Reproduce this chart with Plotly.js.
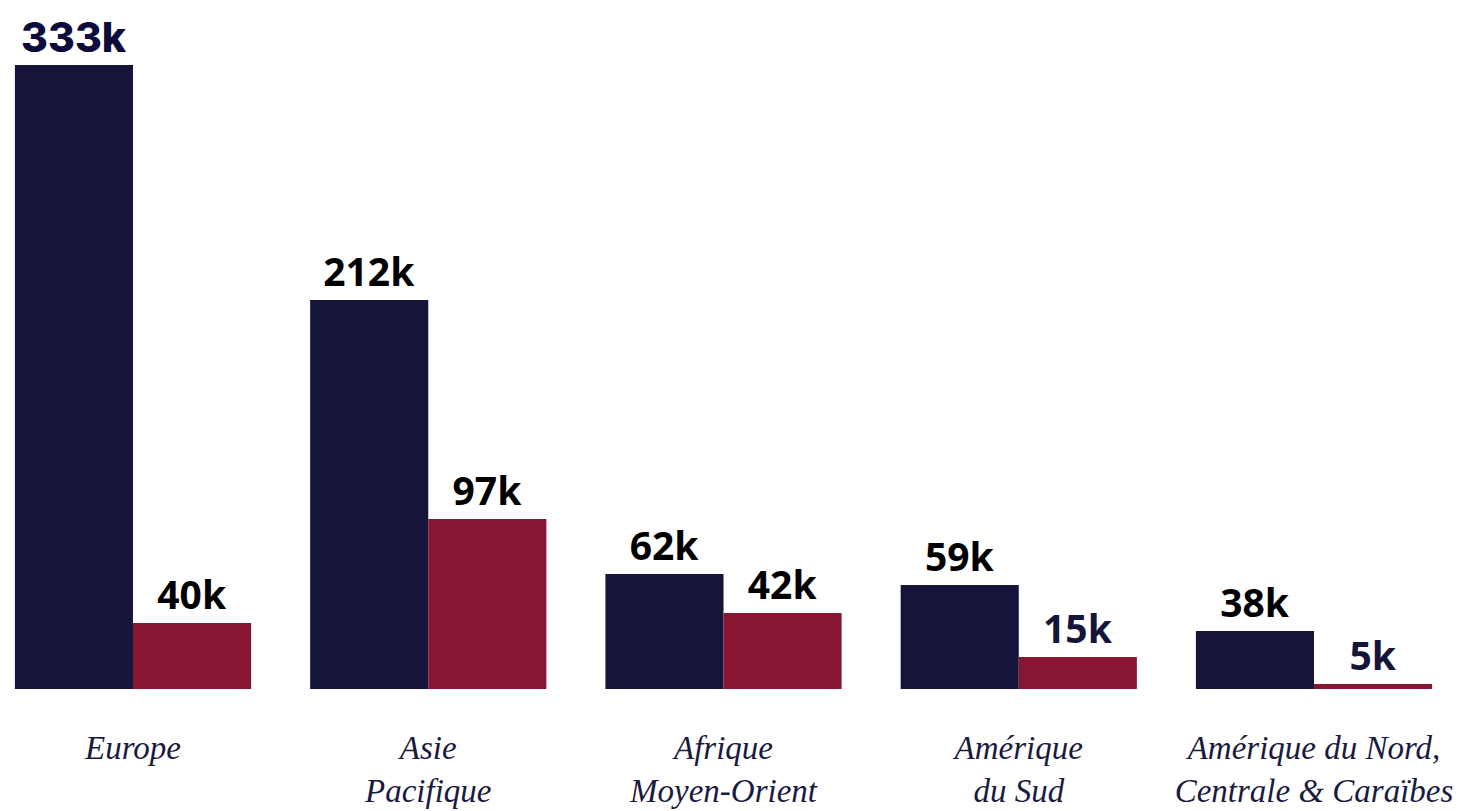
<!DOCTYPE html>
<html><head><meta charset="utf-8">
<script src="https://cdn.plot.ly/plotly-3.0.1.min.js"></script>
<style>html,body{margin:0;padding:0;background:#fff;}#chart{width:1465px;height:811px;}</style>
</head><body><div id="chart"></div>
<script>
const categories = ["Europe", "Asie<br>Pacifique", "Afrique<br>Moyen-Orient", "Amérique<br>du Sud", "Amérique du Nord,<br>Centrale &amp; Caraïbes"];
// bar heights (thousands)
const seriesA = [333, 207.6, 61.4, 55.5, 31];
const seriesB = [35.2, 90.7, 40.6, 17.1, 2.7];
// printed labels
const labelsA = ["333k", "212k", "62k", "59k", "38k"];
const labelsB = ["40k", "97k", "42k", "15k", "5k"];

const NAVY = "#15153b", RED = "#861631";
const fA = {family: ["Inter", "Noto Sans", "Noto Sans", "Noto Sans", "Noto Sans"],
            size: [41, 39, 39, 39, 39],
            color: ["#0d0b3c", "#000", "#000", "#000", "#000"],
            weight: [800, 700, 700, 700, 700]};
const fB = {family: "Noto Sans", size: 39,
            color: ["#000", "#000", "#000", "#15153b", "#15153b"], weight: 700};

const traces = [
  {type: "bar", x: categories, y: seriesA, text: labelsA, textposition: "outside",
   marker: {color: NAVY}, textfont: fA, cliponaxis: false, hoverinfo: "none"},
  {type: "bar", x: categories, y: seriesB, text: labelsB, textposition: "outside",
   marker: {color: RED}, textfont: fB, cliponaxis: false, hoverinfo: "none"}
];
const layout = {
  width: 1465, height: 811, showlegend: false,
  margin: {l: 0, r: 0, t: 0, b: 122, pad: 0},
  paper_bgcolor: "#fff", plot_bgcolor: "#fff",
  barmode: "group", bargap: 0.2, bargroupgap: 0,
  xaxis: {type: "category", range: [-0.4505, 4.5114], showgrid: false, zeroline: false,
          showline: false, ticks: "", ticklabelstandoff: 36,
          tickfont: {family: "Liberation Serif", size: 33, color: "#1a1a40", style: "italic"}},
  yaxis: {range: [0, 367.7], visible: false, showgrid: false, zeroline: false}
};
Plotly.newPlot("chart", traces, layout, {displayModeBar: false, staticPlot: true});
</script></body></html>
